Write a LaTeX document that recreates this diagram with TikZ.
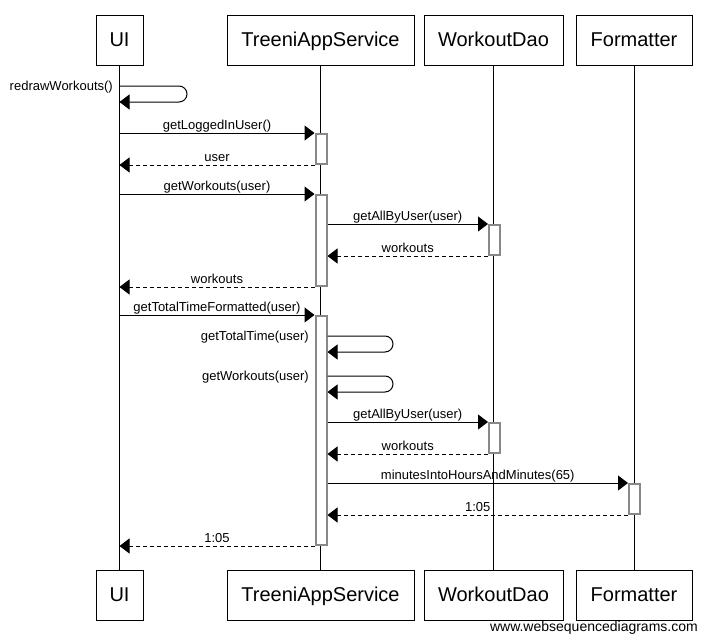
\documentclass[tikz,border=0pt]{standalone}
\usepackage{fontspec}
\setmainfont{Liberation Sans}
\usetikzlibrary{arrows.meta}
\definecolor{actgray}{HTML}{888888}
\begin{document}
\begin{tikzpicture}[x=1pt,y=-1pt,
  part/.style={draw=black, line width=1pt, fill=white, minimum height=50pt, inner sep=0pt, text height=16pt, text depth=4pt, font=\fontsize{20}{24}\selectfont},
  actbox/.style={draw=actgray, line width=2pt, fill=white, minimum width=11pt, inner sep=0pt, anchor=north},
  msg/.style={draw=black, line width=1pt, -{Triangle[length=10pt,width=15pt]}},
  ret/.style={msg, dash pattern=on 4pt off 3pt},
  lbl/.style={font=\fontsize{13}{15}\selectfont, inner sep=0pt, anchor=base, yshift=3.5pt},
  slbl/.style={font=\fontsize{13}{15}\selectfont, inner sep=0pt, anchor=base east},
  life/.style={draw=black, line width=1pt}]
\useasboundingbox[fill=white] (0,0) rectangle (707,643);

% participants
\node[part, minimum width=47pt]  (uiT)  at (119.5,40) {UI};
\node[part, minimum width=187pt] (tasT) at (320.5,40) {TreeniAppService};
\node[part, minimum width=139pt] (wdT)  at (493.5,40) {WorkoutDao};
\node[part, minimum width=116pt] (fT)   at (634,40)   {Formatter};
\node[part, minimum width=47pt]  (uiB)  at (119.5,595) {UI};
\node[part, minimum width=187pt] (tasB) at (320.5,595) {TreeniAppService};
\node[part, minimum width=139pt] (wdB)  at (493.5,595) {WorkoutDao};
\node[part, minimum width=116pt] (fB)   at (634,595)   {Formatter};

% lifelines
\draw[life] (uiT.south) -- (uiB.north);
\draw[life] (tasT.south) -- (tasB.north);
\draw[life] (wdT.south) -- (wdB.north);
\draw[life] (fT.south) -- (fB.north);

% activations
\node[actbox, minimum height=30pt]  (a1) at (321,133) {};
\node[actbox, minimum height=91pt]  (a2) at (321,194) {};
\node[actbox, minimum height=229pt] (a3) at (321,315) {};
\node[actbox, minimum height=30pt]  (a4) at (494.5,224) {};
\node[actbox, minimum height=30pt]  (a5) at (494.5,422) {};
\node[actbox, minimum height=30pt]  (a6) at (634.5,483) {};

% messages
\draw[msg, rounded corners=8pt] (uiT.south |- 0,86) -- (187,86) -- (187,102) -- (uiT.south |- 0,102);
\node[slbl] (l0) at (113,90.5) {redrawWorkouts()};

\draw[msg] (uiT.south |- a1.north) -- (a1.north west) node[lbl, midway] (l1) {getLoggedInUser()};
\draw[ret] (a1.south west) -- (uiT.south |- a1.south) node[lbl, midway] (l2) {user};
\draw[msg] (uiT.south |- a2.north) -- (a2.north west) node[lbl, midway] (l3) {getWorkouts(user)};
\draw[msg] (a2.east |- a4.north) -- (a4.north west) node[lbl, midway] (l4) {getAllByUser(user)};
\draw[ret] (a4.south west) -- (a2.east |- a4.south) node[lbl, midway] (l5) {workouts};
\draw[ret] (a2.south west) -- (uiT.south |- a2.south) node[lbl, midway] (l6) {workouts};
\draw[msg] (uiT.south |- a3.north) -- (a3.north west) node[lbl, midway] (l7) {getTotalTimeFormatted(user)};

\draw[msg, rounded corners=8pt] (a3.east |- 0,336) -- (393,336) -- (393,352) -- (a3.east |- 0,352);
\node[slbl] (l8) at (309,340.5) {getTotalTime(user)};
\draw[msg, rounded corners=8pt] (a3.east |- 0,376) -- (393,376) -- (393,392) -- (a3.east |- 0,392);
\node[slbl] (l9) at (309,380.5) {getWorkouts(user)};

\draw[msg] (a3.east |- a5.north) -- (a5.north west) node[lbl, midway] (l10) {getAllByUser(user)};
\draw[ret] (a5.south west) -- (a3.east |- a5.south) node[lbl, midway] (l11) {workouts};
\draw[msg] (a3.east |- a6.north) -- (a6.north west) node[lbl, midway] (l12) {minutesIntoHoursAndMinutes(65)};
\draw[ret] (a6.south west) -- (a3.east |- a6.south) node[lbl, midway] (l13) {1:05};
\draw[ret] (a3.south west) -- (uiT.south |- a3.south) node[lbl, midway] (l14) {1:05};

\node[font=\fontsize{14}{16}\selectfont, anchor=base east, inner sep=0pt] (wm) at (698,631) {www.websequencediagrams.com};
\end{tikzpicture}
\end{document}
